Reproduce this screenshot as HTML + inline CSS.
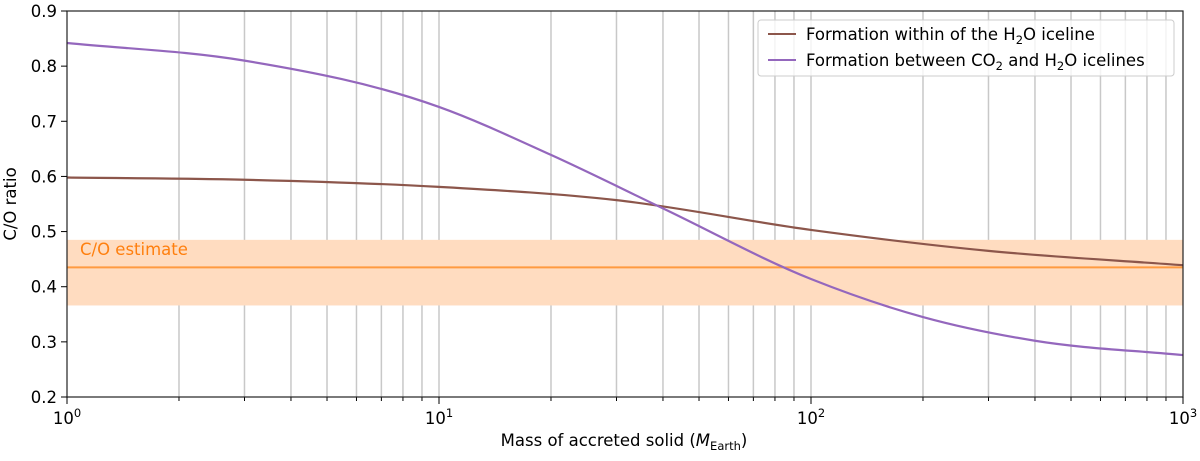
<!DOCTYPE html>
<html><head><meta charset="utf-8"><style>
body{margin:0;background:#fff}
svg{font-family:"DejaVu Sans","Liberation Sans",sans-serif}
</style></head><body>
<svg id="chart" width="1200" height="456" xmlns="http://www.w3.org/2000/svg">
<g id="grid"></g>
<g id="band"></g>
<g id="series"></g>
<g id="axes"></g>
<text x="624" y="446" font-size="16.5" text-anchor="middle">Mass of accreted solid (<tspan font-style="italic">M</tspan><tspan font-size="11.5" dy="4">Earth</tspan><tspan dy="-4">)</tspan></text>
<text transform="translate(16,204) rotate(-90)" font-size="16.5" text-anchor="middle">C/O ratio</text>
<text x="80" y="255" font-size="16.5" fill="#ff7f0e">C/O estimate</text>
<g>
<rect x="758" y="20" width="416" height="56" rx="3" fill="#fff" fill-opacity="0.8" stroke="#ccc"/>
<line x1="768" y1="34" x2="796" y2="34" stroke="#8c564b" stroke-width="2"/>
<text x="806" y="40" font-size="16.5">Formation within of the H<tspan font-size="11.5" dy="4">2</tspan><tspan dy="-4">O iceline</tspan></text>
<line x1="768" y1="60" x2="796" y2="60" stroke="#9467bd" stroke-width="2"/>
<text x="806" y="66" font-size="16.5">Formation between CO<tspan font-size="11.5" dy="4">2</tspan><tspan dy="-4"> and H</tspan><tspan font-size="11.5" dy="4">2</tspan><tspan dy="-4">O icelines</tspan></text>
</g>
</svg>
<script>
const massH2O=[1,3,10,30,100,300,1000];
const coH2O=[0.598,0.594,0.581,0.557,0.503,0.465,0.439];
const massCO2=[1,3,10,20,40,100,200,400,1000];
const coCO2=[0.842,0.810,0.726,0.639,0.542,0.414,0.345,0.302,0.276];
const estimate=[0.435];
const estimateLow=[0.366];
const estimateHigh=[0.485];
const yTicks=[0.2,0.3,0.4,0.5,0.6,0.7,0.8,0.9];
const xDecades=[0,1,2,3];
const NS="http://www.w3.org/2000/svg";
const L=67,R=1183,T=11,B=397;
const X=v=>L+Math.log10(v)/3*(R-L);
const Y=v=>B-(v-0.2)/0.7*(B-T);
function mk(p,t,a){const e=document.createElementNS(NS,t);for(const k in a)e.setAttribute(k,a[k]);p.appendChild(e);return e;}
const grid=document.getElementById('grid'),axes=document.getElementById('axes');
for(let d=0;d<3;d++)for(let m=1;m<=9;m++){const v=m*Math.pow(10,d);if(v===1)continue;
 const g=mk(grid,'line',{x1:X(v),x2:X(v),y1:T,y2:B,stroke:'#c8c8c8','stroke-width':1.5});
 
 
 const t=mk(axes,'line',{x1:X(v),x2:X(v),y1:B,y2:B+(m===1?7:4),stroke:'#000','stroke-width':1});
 
 }
const band=document.getElementById('band');
const br=mk(band,'rect',{x:L,y:Y(estimateHigh[0]),width:R-L,height:Y(estimateLow[0])-Y(estimateHigh[0]),fill:'#ffdcc0'});


const el=mk(band,'line',{x1:L,x2:R,y1:Y(estimate[0]),y2:Y(estimate[0]),stroke:'#ff9a40','stroke-width':2});


function curve(xs,ys,c,name){
 const px=xs.map(X),py=ys.map(Y),n=px.length;
 const sl=[];for(let i=0;i<n-1;i++)sl.push((py[i+1]-py[i])/(px[i+1]-px[i]));
 const m=px.map((_,i)=>i===0?sl[0]:i===n-1?sl[n-2]:
   ((px[i+1]-px[i])*sl[i-1]+(px[i]-px[i-1])*sl[i])/(px[i+1]-px[i-1]));
 let d='M'+px[0]+','+py[0];
 for(let i=0;i<n-1;i++){const h=(px[i+1]-px[i])/3;
  d+=' C'+(px[i]+h)+','+(py[i]+m[i]*h)+' '+(px[i+1]-h)+','+(py[i+1]-m[i+1]*h)+' '+px[i+1]+','+py[i+1];}
 const p=mk(document.getElementById('series'),'path',{d:d,fill:'none',stroke:c,'stroke-width':2.2});
 
 }
curve(massH2O,coH2O,'#8c564b','line-h2o-iceline');
curve(massCO2,coCO2,'#9467bd','line-co2-h2o-icelines');
const fr=mk(axes,'rect',{x:L,y:T,width:R-L,height:B-T,fill:'none',stroke:'#222','stroke-width':1.2});


yTicks.forEach(v=>{const t=mk(axes,'line',{x1:L-6,x2:L,y1:Y(v),y2:Y(v),stroke:'#000'});
 
 
 const l=mk(axes,'text',{x:L-10,y:Y(v)+6,'font-size':16.5,'text-anchor':'end'});l.textContent=v.toFixed(1);
 
 });
xDecades.forEach(d=>{const t=mk(axes,'line',{x1:X(Math.pow(10,d)),x2:X(Math.pow(10,d)),y1:B,y2:B+7,stroke:'#000'});
 
 
 const l=mk(axes,'text',{x:X(Math.pow(10,d)),y:B+27,'font-size':16.5,'text-anchor':'middle'});
 l.innerHTML='10<tspan font-size="11.5" dy="-7">'+d+'</tspan>';
 
 });
</script>
</body></html>
